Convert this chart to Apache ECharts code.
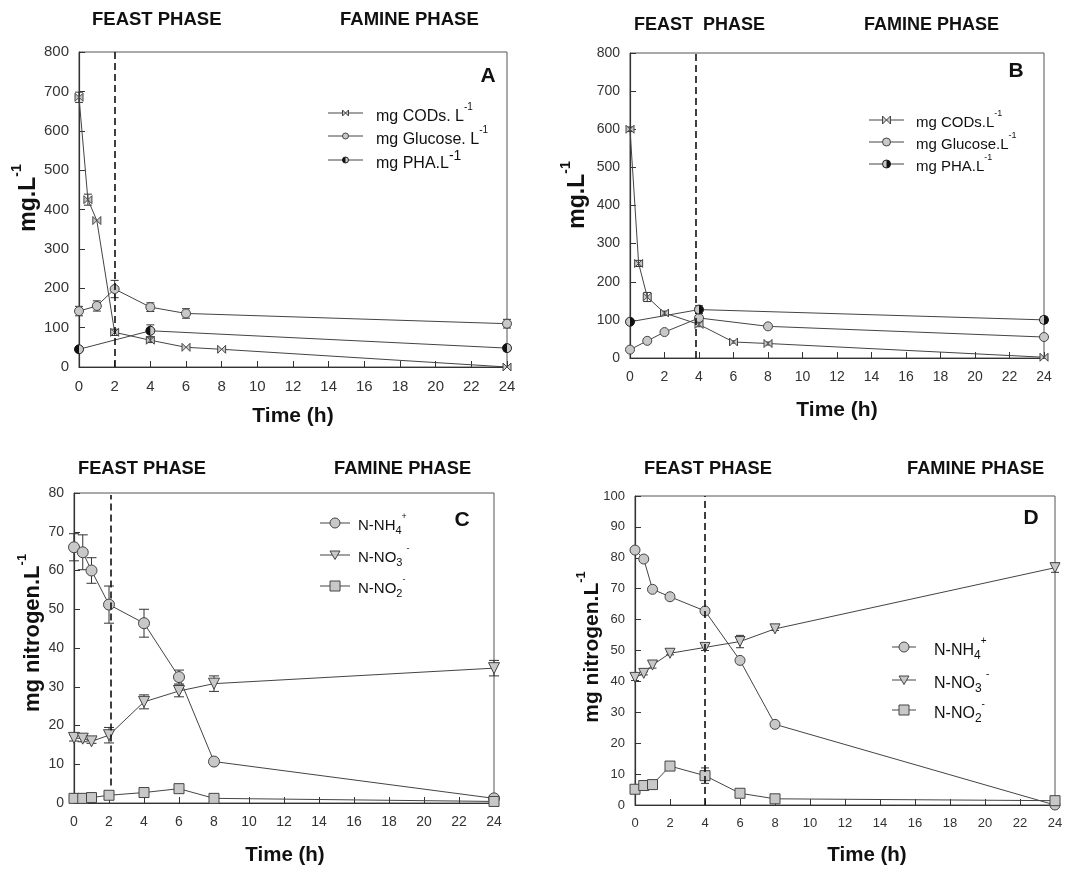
<!DOCTYPE html>
<html>
<head>
<meta charset="utf-8">
<script src="https://cdn.jsdelivr.net/npm/echarts@6/dist/echarts.min.js"></script>
<style>html,body{margin:0;padding:0;background:#fff;}#c{width:1068px;height:869px;}</style>
</head>
<body>
<div id="c"></div>
<script>
// ---------- DATA ----------
const xTicks = [0, 24, 2];
// Panel A
const tCodA = [0, 0.5, 1, 2, 4, 6, 8, 24];
const codA = [685, 425, 372, 88, 68, 50, 45, 0];
const codAErr = [13, 14, 0, 8, 6, 0, 0, 0];
const tGluA = [0, 1, 2, 4, 6, 24];
const gluA = [142, 155, 198, 152, 136, 110];
const gluAErr = [12, 13, 22, 11, 12, 11];
const tPhaA = [0, 4, 24];
const phaA = [45, 92, 48];
const phaAErr = [6, 15, 7];
// Panel B
const tCodB = [0, 0.5, 1, 2, 4, 6, 8, 24];
const codB = [600, 248, 160, 118, 88, 42, 38, 2];
const codBErr = [6, 8, 12, 5, 6, 3, 4, 2];
const tGluB = [0, 1, 2, 4, 8, 24];
const gluB = [22, 45, 68, 105, 83, 55];
const gluBErr = [3, 3, 3, 6, 5, 3];
const tPhaB = [0, 4, 24];
const phaB = [95, 127, 100];
const phaBErr = [6, 10, 8];
// Panel C
const tC = [0, 0.5, 1, 2, 4, 6, 8, 24];
const nh4C = [66, 64.7, 60, 51.2, 46.4, 32.5, 10.7, 1.2];
const nh4CErr = [3.5, 4.5, 3.3, 4.8, 3.6, 1.8, 0, 0.5];
const no3C = [16.8, 16.6, 15.9, 17.5, 26.1, 28.9, 30.8, 34.8];
const no3CErr = [0.8, 0.8, 0.5, 2, 1.8, 1.5, 2, 2];
const no2C = [1.2, 1.2, 1.4, 2.0, 2.7, 3.7, 1.2, 0.4];
// Panel D
const tD = [0, 0.5, 1, 2, 4, 6, 8, 24];
const nh4D = [82.5, 79.6, 69.8, 67.4, 62.8, 46.8, 26.1, 0];
const no3D = [41.3, 42.6, 45.3, 49.1, 51.0, 52.9, 57.0, 76.8];
const no3DErr = [1, 0.5, 1, 0.5, 1, 2, 0.5, 1.5];
const no2D = [5.1, 6.3, 6.6, 12.6, 9.5, 3.8, 2.0, 1.4];
const no2DErr = [0, 0, 0, 0, 2.5, 0, 0, 0];
// phase boundaries
const phaseX = [2, 3.8, 2.1, 4];

// ---------- STYLE ----------
const FF = '"Liberation Sans", Arial, sans-serif';
const LINE = '#444';
const FILL = '#c8c8c8';
const grids = [
  {left: 79, top: 52, width: 428, height: 315},
  {left: 630, top: 53, width: 414, height: 305},
  {left: 74, top: 493, width: 420, height: 310},
  {left: 635, top: 496, width: 420, height: 309}
];
const yMax = [800, 800, 80, 100];
const yInt = [100, 100, 10, 10];
const tickFont = [15, 14, 14, 13];

const zip = (xs, ys) => xs.map((x, i) => [x, ys[i]]);
const zipE = (xs, ys, es) => xs.map((x, i) => [x, ys[i], es[i]]).filter(d => d[2] > 0);

const SYM = {
  bow: 'path://M0,0L10,10L10,0L0,10Z',
  tri: 'path://M0,0L10,0L5,9Z'
};

function lineSeries(idx, data, symbol, size, z) {
  return {
    type: 'line', xAxisIndex: idx, yAxisIndex: idx, data: data,
    symbol: symbol, symbolSize: size, showSymbol: symbol !== 'none',
    lineStyle: {color: LINE, width: 1},
    itemStyle: {color: FILL, borderColor: LINE, borderWidth: 1},
    z: z || 3, silent: true, animation: false
  };
}
function errSeries(idx, data, cap) {
  return {
    type: 'custom', xAxisIndex: idx, yAxisIndex: idx, data: data, z: 2,
    encode: {x: 0, y: 1}, silent: true, animation: false,
    renderItem: function (p, api) {
      const x = api.value(0), y = api.value(1), e = api.value(2);
      const a = api.coord([x, y + e]), b = api.coord([x, y - e]);
      const st = {stroke: '#333', lineWidth: 1};
      return {type: 'group', children: [
        {type: 'line', shape: {x1: a[0], y1: a[1], x2: b[0], y2: b[1]}, style: st},
        {type: 'line', shape: {x1: a[0] - cap, y1: a[1], x2: a[0] + cap, y2: a[1]}, style: st},
        {type: 'line', shape: {x1: b[0] - cap, y1: b[1], x2: b[0] + cap, y2: b[1]}, style: st}
      ]};
    }
  };
}
function halfSeries(idx, data, r, leftBlack) {
  return {
    type: 'custom', xAxisIndex: idx, yAxisIndex: idx, data: data, z: 5,
    encode: {x: 0, y: 1}, silent: true, animation: false,
    renderItem: function (p, api) {
      const c = api.coord([api.value(0), api.value(1)]);
      const s = leftBlack ? Math.PI / 2 : -Math.PI / 2;
      return {type: 'group', children: [
        {type: 'circle', shape: {cx: c[0], cy: c[1], r: r}, style: {fill: FILL, stroke: '#222', lineWidth: 1}},
        {type: 'sector', shape: {cx: c[0], cy: c[1], r: r, r0: 0, startAngle: s, endAngle: s + Math.PI}, style: {fill: '#111'}}
      ]};
    }
  };
}
function dashSeries(idx, x, y0, y1) {
  return {
    type: 'line', xAxisIndex: idx, yAxisIndex: idx, data: [], silent: true, animation: false,
    markLine: {
      silent: true, symbol: 'none', label: {show: false}, animation: false,
      lineStyle: {color: '#111', width: 1.6, type: [7, 4]},
      data: [[{coord: [x, y0]}, {coord: [x, y1]}]]
    }
  };
}

const series = [
  // A
  errSeries(0, zipE(tCodA, codA, codAErr), 4),
  errSeries(0, zipE(tGluA, gluA, gluAErr), 4),
  errSeries(0, zipE(tPhaA, phaA, phaAErr), 4),
  lineSeries(0, zip(tCodA, codA), SYM.bow, 8),
  lineSeries(0, zip(tGluA, gluA), 'circle', 9),
  lineSeries(0, zip(tPhaA, phaA), 'none', 0),
  halfSeries(0, zip(tPhaA, phaA), 4.5, true),
  dashSeries(0, phaseX[0], 0, 800),
  // B
  errSeries(1, zipE(tCodB, codB, codBErr), 4),
  errSeries(1, zipE(tGluB, gluB, gluBErr), 4),
  errSeries(1, zipE(tPhaB, phaB, phaBErr), 4),
  lineSeries(1, zip(tCodB, codB), SYM.bow, 8),
  lineSeries(1, zip(tGluB, gluB), 'circle', 9),
  lineSeries(1, zip(tPhaB, phaB), 'none', 0),
  halfSeries(1, zip(tPhaB, phaB), 4.5, false),
  dashSeries(1, phaseX[1], 0, 800),
  // C
  errSeries(2, zipE(tC, nh4C, nh4CErr), 5),
  errSeries(2, zipE(tC, no3C, no3CErr), 5),
  lineSeries(2, zip(tC, nh4C), 'circle', 11),
  lineSeries(2, zip(tC, no3C), SYM.tri, 11),
  lineSeries(2, zip(tC, no2C), 'rect', 10),
  dashSeries(2, phaseX[2], 4.5, 79.5),
  // D
  errSeries(3, zipE(tD, no3D, no3DErr), 4),
  errSeries(3, zipE(tD, no2D, no2DErr), 4),
  lineSeries(3, zip(tD, nh4D), 'circle', 10),
  lineSeries(3, zip(tD, no3D), SYM.tri, 10),
  lineSeries(3, zip(tD, no2D), 'rect', 10),
  dashSeries(3, phaseX[3], 0, 100)
];

const xAxis = grids.map((g, i) => ({
  type: 'value', gridIndex: i, min: xTicks[0], max: xTicks[1], interval: xTicks[2],
  axisLine: {show: true, onZero: false, lineStyle: {color: '#333', width: 1.2}},
  axisTick: {show: true, inside: true, length: 6, lineStyle: {color: '#333'}},
  axisLabel: {color: '#333', fontSize: tickFont[i], fontFamily: FF, margin: 12, showMaxLabel: true, showMinLabel: true},
  splitLine: {show: false}
}));
const yAxis = grids.map((g, i) => ({
  type: 'value', gridIndex: i, min: 0, max: yMax[i], interval: yInt[i],
  axisLine: {show: true, lineStyle: {color: '#333', width: 1.2}},
  axisTick: {show: true, inside: true, length: 6, lineStyle: {color: '#333'}},
  axisLabel: {color: '#333', fontSize: tickFont[i], fontFamily: FF, margin: 10},
  splitLine: {show: false}
}));

// ---------- TEXT / LEGENDS ----------
function txt(x, y, text, size, align, extra) {
  return Object.assign({type: 'text', x: x, y: y, silent: true, style: {
    text: text, fontSize: size, fontWeight: 'bold', fontFamily: FF, fill: '#111',
    align: align || 'left', verticalAlign: 'middle'
  }}, extra || {});
}
function richTxt(x, y, text, size, rot) {
  return {type: 'text', x: x, y: y, rotation: rot || 0, silent: true, style: {
    text: text, fontFamily: FF, fill: '#111', align: 'center', verticalAlign: 'middle',
    rich: {
      t: {fontSize: size, fontWeight: 'bold', fontFamily: FF, fill: '#111', lineHeight: size * 1.3, verticalAlign: 'bottom'},
      s: {fontSize: Math.round(size * 0.6), fontWeight: 'bold', fontFamily: FF, fill: '#111', verticalAlign: 'top', lineHeight: size * 1.3}
    }
  }};
}
function marker(kind, cx, cy, r, leftBlack) {
  const st = {fill: FILL, stroke: LINE, lineWidth: 1};
  if (kind === 'circle') return [{type: 'circle', shape: {cx: cx, cy: cy, r: r}, style: st}];
  if (kind === 'rect') return [{type: 'rect', shape: {x: cx - r, y: cy - r, width: 2 * r, height: 2 * r}, style: st}];
  if (kind === 'tri') return [{type: 'polygon', shape: {points: [[cx - r, cy - r * 0.8], [cx + r, cy - r * 0.8], [cx, cy + r * 0.9]]}, style: st}];
  if (kind === 'bow') return [{type: 'polygon', shape: {points: [[cx - r, cy - r], [cx + r, cy + r], [cx + r, cy - r], [cx - r, cy + r]]}, style: st}];
  if (kind === 'half') {
    const s = leftBlack ? Math.PI / 2 : -Math.PI / 2;
    return [{type: 'circle', shape: {cx: cx, cy: cy, r: r}, style: {fill: FILL, stroke: '#222', lineWidth: 1}},
            {type: 'sector', shape: {cx: cx, cy: cy, r: r, r0: 0, startAngle: s, endAngle: s + Math.PI}, style: {fill: '#111'}}];
  }
  return [];
}
function legendRow(x1, x2, tx, y, kind, r, text, size, leftBlack) {
  const els = [{type: 'line', silent: true, shape: {x1: x1, y1: y, x2: x2, y2: y}, style: {stroke: LINE, lineWidth: 1}}];
  marker(kind, (x1 + x2) / 2, y, r, leftBlack).forEach(m => { m.silent = true; els.push(m); });
  els.push({type: 'text', x: tx, y: y, silent: true, style: {
    text: text, fontFamily: FF, fill: '#111', align: 'left', verticalAlign: 'middle',
    rich: {
      t: {fontSize: size, fontFamily: FF, fill: '#111', lineHeight: size * 1.4, verticalAlign: 'bottom'},
      s: {fontSize: Math.round(size * 0.62), fontFamily: FF, fill: '#111', lineHeight: size * 1.4, verticalAlign: 'top'},
      s2: {fontSize: Math.round(size * 0.85), fontFamily: FF, fill: '#111', lineHeight: size * 1.4, verticalAlign: 'top'},
      b: {fontSize: Math.round(size * 0.75), fontFamily: FF, fill: '#111', lineHeight: size * 1.4, verticalAlign: 'bottom', padding: [0, 0, -3, 0]}
    }
  }});
  return els;
}

const nLab = ['{t|N-NH}{b|4}{s|+}', '{t|N-NO}{b|3}{t| }{s|-}', '{t|N-NO}{b|2}{s|-}'];

let graphic = [
  // phase titles
  txt(92, 20, 'FEAST PHASE', 18.5), txt(340, 20, 'FAMINE PHASE', 18.5),
  txt(634, 25, 'FEAST  PHASE', 18), txt(864, 25, 'FAMINE PHASE', 18),
  txt(78, 469, 'FEAST PHASE', 18.3), txt(334, 469, 'FAMINE PHASE', 18.3),
  txt(644, 469, 'FEAST PHASE', 18.3), txt(907, 469, 'FAMINE PHASE', 18.3),
  // panel letters
  txt(488, 76, 'A', 21, 'center'), txt(1016, 71, 'B', 21, 'center'),
  txt(462, 520, 'C', 21, 'center'), txt(1031, 518, 'D', 21, 'center'),
  // axis names
  txt(293, 416, 'Time (h)', 21, 'center'), txt(837, 410, 'Time (h)', 21, 'center'),
  txt(285, 855, 'Time (h)', 20.5, 'center'), txt(867, 855, 'Time (h)', 20.5, 'center'),
  richTxt(25, 198, '{t|mg.L}{s|-1}', 23, Math.PI / 2),
  richTxt(574, 195, '{t|mg.L}{s|-1}', 23, Math.PI / 2),
  richTxt(30, 633, '{t|mg nitrogen.L}{s|-1}', 22, Math.PI / 2),
  richTxt(589, 647, '{t|mg nitrogen.L}{s|-1}', 21, Math.PI / 2)
];
graphic = graphic.concat(
  legendRow(328, 363, 376, 113, 'bow', 3, '{t|mg CODs. L}{s|-1}', 16),
  legendRow(328, 363, 376, 136, 'circle', 3, '{t|mg Glucose. L}{s|-1}', 16),
  legendRow(328, 363, 376, 160, 'half', 3, '{t|mg PHA.L}{s2|-1}', 16, true),
  legendRow(869, 904, 916, 120, 'bow', 4, '{t|mg CODs.L}{s|-1}', 15),
  legendRow(869, 904, 916, 142, 'circle', 4, '{t|mg Glucose.L}{s|-1}', 15),
  legendRow(869, 904, 916, 164, 'half', 4, '{t|mg PHA.L}{s|-1}', 15, false),
  legendRow(320, 350, 358, 523, 'circle', 5, nLab[0], 15),
  legendRow(320, 350, 358, 555, 'tri', 5, nLab[1], 15),
  legendRow(320, 350, 358, 586, 'rect', 5, nLab[2], 15),
  legendRow(892, 916, 934, 647, 'circle', 5, nLab[0], 16),
  legendRow(892, 916, 934, 680, 'tri', 5, nLab[1], 16),
  legendRow(892, 916, 934, 710, 'rect', 5, nLab[2], 16)
);

const chart = echarts.init(document.getElementById('c'));
chart.setOption({
  animation: false,
  backgroundColor: '#fff',
  grid: grids.map(g => Object.assign({show: true, borderColor: '#555', borderWidth: 1, backgroundColor: 'transparent'}, g)),
  xAxis: xAxis,
  yAxis: yAxis,
  series: series,
  graphic: graphic
});
</script>
</body>
</html>
